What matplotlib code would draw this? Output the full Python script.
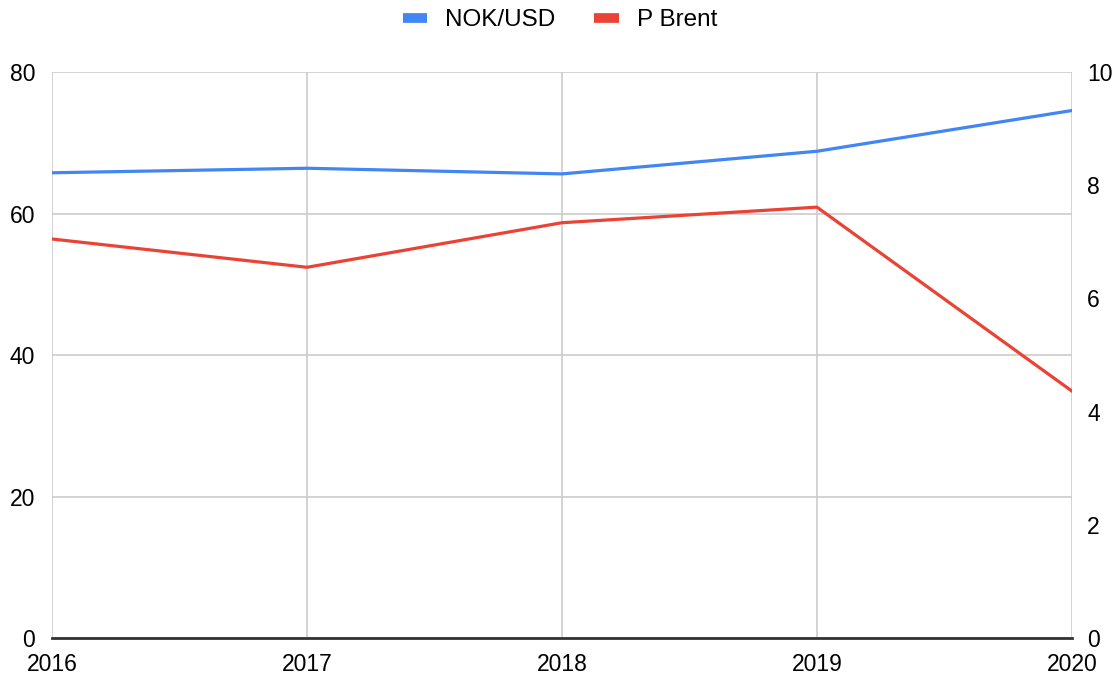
import matplotlib as mpl
import matplotlib.pyplot as plt
from matplotlib.lines import Line2D

# data
years = [2016, 2017, 2018, 2019, 2020]
nok_usd = [8.22, 8.30, 8.20, 8.60, 9.32]      # right axis
p_brent = [56.4, 52.4, 58.7, 60.9, 34.9]      # left axis
left_ticks = [0, 20, 40, 60, 80]
right_ticks = [0, 2, 4, 6, 8, 10]

BLUE = "#4285F4"
RED = "#EA4335"
GRID = "#cccccc"
FS = 16.5


def setup_style() -> None:
    mpl.rcParams.update({"font.family": ["Liberation Sans", "DejaVu Sans"], "font.size": FS})


def make_figure() -> None:
    setup_style()
    fig = plt.figure(figsize=(11.2, 6.77), dpi=100)
    ax = fig.add_axes([0.0464, 0.0576, 0.9107, 0.836])
    ax2 = ax.twinx()

    ax.plot(years, p_brent, color=RED, lw=2.3, zorder=3)
    ax2.plot(years, nok_usd, color=BLUE, lw=2.3, zorder=3)

    ax.set_xlim(years[0], years[-1])
    ax.set_ylim(0, 80)
    ax2.set_ylim(0, 10)
    ax.set_xticks(years)
    ax.set_xticklabels([str(y) for y in years])
    ax.set_yticks(left_ticks)
    ax2.set_yticks(right_ticks)

    ax.grid(True, color=GRID, lw=1.2)
    ax.set_axisbelow(True)
    for a in (ax, ax2):
        for side in ("top", "left", "right", "bottom"):
            a.spines[side].set_visible(False)
        a.tick_params(length=0)
    ax.axhline(0, color="#333333", lw=2, zorder=4, clip_on=False)
    ax.tick_params(axis="x", pad=11, labelsize=FS, colors="black")
    ax.tick_params(axis="y", pad=12, labelsize=FS)
    ax2.tick_params(axis="y", pad=11, labelsize=FS)

    handles = [Line2D([], [], color=BLUE, lw=7, solid_capstyle="butt"),
               Line2D([], [], color=RED, lw=7, solid_capstyle="butt")]
    fig.legend(handles, ["NOK/USD", "P Brent"], loc="center", bbox_to_anchor=(0.5, 0.97),
               ncol=2, frameon=False, handlelength=1.0, handletextpad=0.75, columnspacing=1.6,
               fontsize=17.5)

    fig.savefig("out.png", dpi=100)
    plt.close(fig)


if __name__ == "__main__":
    make_figure()
